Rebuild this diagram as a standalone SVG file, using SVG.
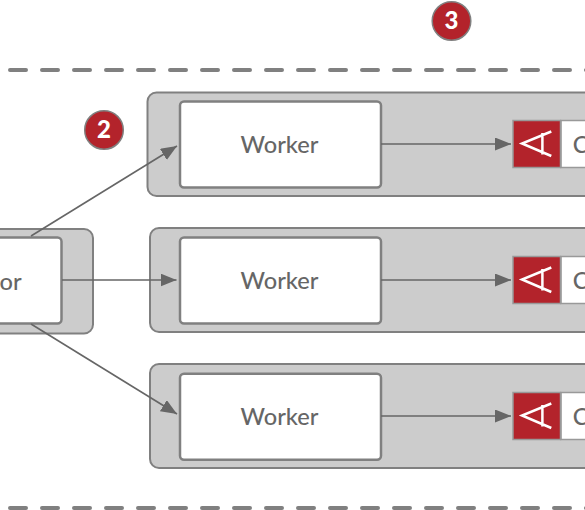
<svg xmlns="http://www.w3.org/2000/svg" width="585" height="510" viewBox="0 0 585 510">
<defs>
<marker id="arrow" markerUnits="userSpaceOnUse" markerWidth="18" markerHeight="14" refX="16" refY="6.500" orient="auto"><path d="M0 0L16 6.500L0 13Z" fill="#666"/></marker>
</defs>
<style>
.group{fill:#ccc;stroke:#808080;stroke-width:2}
.box{fill:#fff;stroke:#808080;stroke-width:2.500}
.label{font-family:Lato,"Liberation Sans",sans-serif;font-size:23.600px;font-weight:500;fill:#666;text-anchor:middle}
.dash{fill:none;stroke:#808080;stroke-width:4;stroke-linecap:round;stroke-dasharray:16 16}
.conn{fill:none;stroke:#666;stroke-width:1.600;marker-end:url(#arrow)}
.badge{fill:#b3232b;stroke:#808080;stroke-width:1.500}
.num{font-family:Lato,"Liberation Sans",sans-serif;font-size:24px;font-weight:900;fill:#fff;text-anchor:middle}
.red{fill:#b3232b;stroke:#999;stroke-width:1.500}
.side{fill:#fff;stroke:#999;stroke-width:1.500}
.glyph{fill:none;stroke:#fff;stroke-width:2.500}
</style>
<g id="separators">
<path class="dash" d="M10 70H590"/>
<path class="dash" d="M10 508H590"/>
</g>
<g id="group-source"><rect class="group" x="-20" y="229" width="113" height="104.500" rx="9"/></g>
<g id="group-worker-1"><rect class="group" x="147.500" y="92.500" width="460" height="103.500" rx="9"/></g>
<g id="group-worker-2"><rect class="group" x="150" y="228" width="460" height="104" rx="9"/></g>
<g id="group-worker-3"><rect class="group" x="150" y="364" width="460" height="104" rx="9"/></g>
<g id="node-source"><rect class="box" x="-40" y="237.500" width="101.500" height="86" rx="4"/><text class="label" x="10.500" y="289.500">or</text></g>
<g id="node-worker-1"><rect class="box" x="180" y="101.500" width="201" height="86" rx="4"/><text class="label" x="279.500" y="152.500">Worker</text></g>
<g id="node-worker-2"><rect class="box" x="180" y="237.500" width="201" height="86" rx="4"/><text class="label" x="279.500" y="288.500">Worker</text></g>
<g id="node-worker-3"><rect class="box" x="180" y="373.800" width="201" height="86" rx="4"/><text class="label" x="279.500" y="424.800">Worker</text></g>
<g id="node-c-1"><rect class="side" x="561" y="120.500" width="60" height="47"/><text class="label" x="580.500" y="152.500">C</text><rect class="red" x="513" y="120.500" width="47.500" height="47"/><path class="glyph" d="M551.300 131.500L522 143.500L551.300 156M542.400 133V154.500"/></g>
<g id="node-c-2"><rect class="side" x="561" y="256.500" width="60" height="47"/><text class="label" x="580.500" y="288.500">C</text><rect class="red" x="513" y="256.500" width="47.500" height="47"/><path class="glyph" d="M551.300 267.500L522 279.500L551.300 292M542.400 269V290.500"/></g>
<g id="node-c-3"><rect class="side" x="561" y="392.500" width="60" height="47"/><text class="label" x="580.500" y="424.800">C</text><rect class="red" x="513" y="392.500" width="47.500" height="47"/><path class="glyph" d="M551.300 403.500L522 415.500L551.300 428M542.400 405V426.500"/></g>
<g id="connectors">
<path class="conn" d="M31 236L177 146"/>
<path class="conn" d="M62 280H176.500"/>
<path class="conn" d="M31 324L177 414"/>
<path class="conn" d="M381 144H511"/>
<path class="conn" d="M381 280H511"/>
<path class="conn" d="M381 416H511"/>
</g>
<g id="badge-2"><circle class="badge" cx="104" cy="130" r="19.300"/><text class="num" x="104" y="138">2</text></g>
<g id="badge-3"><circle class="badge" cx="451.500" cy="21" r="19.300"/><text class="num" x="451.500" y="29">3</text></g>
</svg>
